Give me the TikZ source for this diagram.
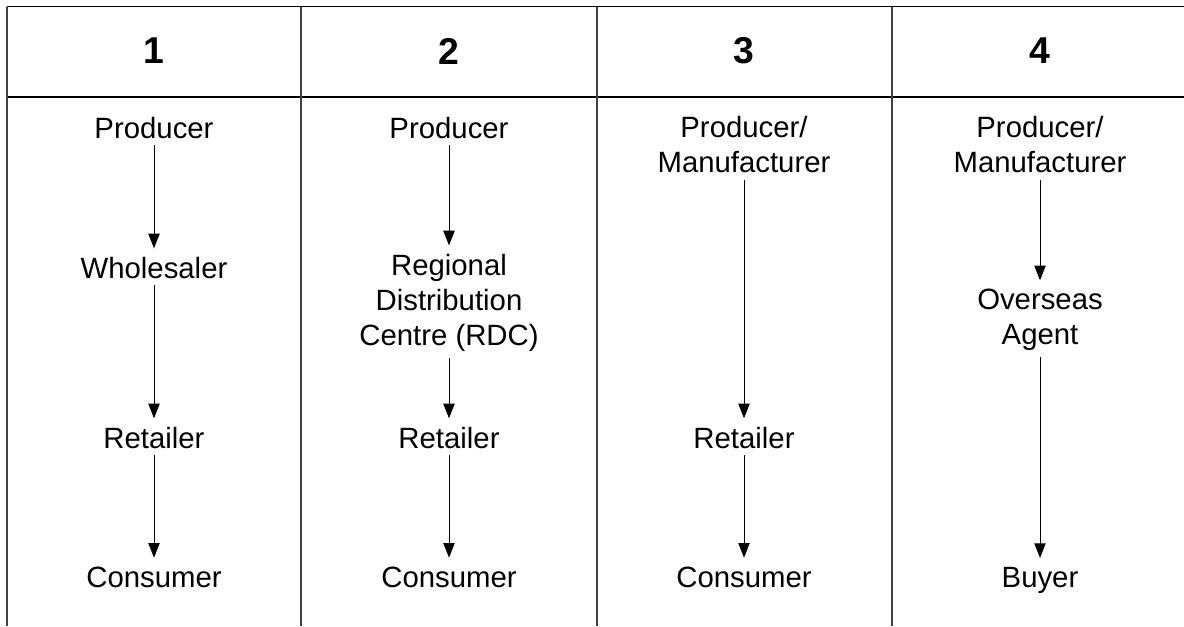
\documentclass[tikz,border=0pt]{standalone}
\usepackage{fontspec}
\setmainfont{Liberation Sans}
\usetikzlibrary{arrows.meta}

\begin{document}
\begin{tikzpicture}[x=0.75pt,y=0.75pt,yscale=-1,xscale=1,
	stage/.style={align=center,inner sep=4.5pt,font=\fontsize{22}{26.25}\selectfont},
	colnum/.style={inner sep=0.75pt,font=\fontsize{28}{32}\selectfont\bfseries},
	flow/.style={-{Triangle[length=11pt,width=8.5pt]},line width=0.75pt,shorten >=2pt},
	rule/.style={line width=1pt},
	divider/.style={line width=1pt,color=black!75}]
				\path[use as bounding box] (0,0) rectangle (1184,626);
				
				%Shape: Table lines
				\draw [rule] (7,6.5) -- (1184,6.5) ;
				\draw [rule] (7,97) -- (1184,97) ;
				\draw [divider] (7,6.5) -- (7,626) ;
				\draw [divider] (301,6.5) -- (301,626) ;
				\draw [divider] (597,6.5) -- (597,626) ;
				\draw [divider] (892,6.5) -- (892,626) ;
				
				% Text Node: column numbers
				\node [colnum] (n1) at (154,51) {1};
				\node [colnum] (n2) at (449,51) {2};
				\node [colnum] (n3) at (744,51) {3};
				\node [colnum] (n4) at (1040,51) {4};
				
				% Text Node: column 1
				\node [stage] (prod1) at (154,128) {Producer};
				\node [stage] (whole1) at (154,268) {Wholesaler};
				\node [stage] (ret1) at (154,438) {Retailer};
				\node [stage] (cons1) at (154,577) {Consumer};
				% Text Node: column 2
				\node [stage] (prod2) at (449,128) {Producer};
				\node [stage] (rdc2) at (449,303) {Regional\\Distribution\\Centre (RDC)};
				\node [stage] (ret2) at (449,438) {Retailer};
				\node [stage] (cons2) at (449,577) {Consumer};
				% Text Node: column 3
				\node [stage] (prod3) at (744,145) {Producer/\\Manufacturer};
				\node [stage] (ret3) at (744,438) {Retailer};
				\node [stage] (cons3) at (744,577) {Consumer};
				% Text Node: column 4
				\node [stage] (prod4) at (1040,145) {Producer/\\Manufacturer};
				\node [stage] (agent4) at (1040,320) {Overseas\\Agent};
				\node [stage] (buyer4) at (1040,580) {Buyer};
				
				%Straight Lines: flows
				\draw [flow] (prod1) -- (whole1) ;
				\draw [flow] (whole1) -- (ret1) ;
				\draw [flow] (ret1) -- (cons1) ;
				\draw [flow] (prod2) -- (rdc2) ;
				\draw [flow] (rdc2) -- (ret2) ;
				\draw [flow] (ret2) -- (cons2) ;
				\draw [flow] (prod3) -- (ret3) ;
				\draw [flow] (ret3) -- (cons3) ;
				\draw [flow] (prod4) -- (agent4) ;
				\draw [flow] (agent4) -- (buyer4) ;
				
\end{tikzpicture}
\end{document}
